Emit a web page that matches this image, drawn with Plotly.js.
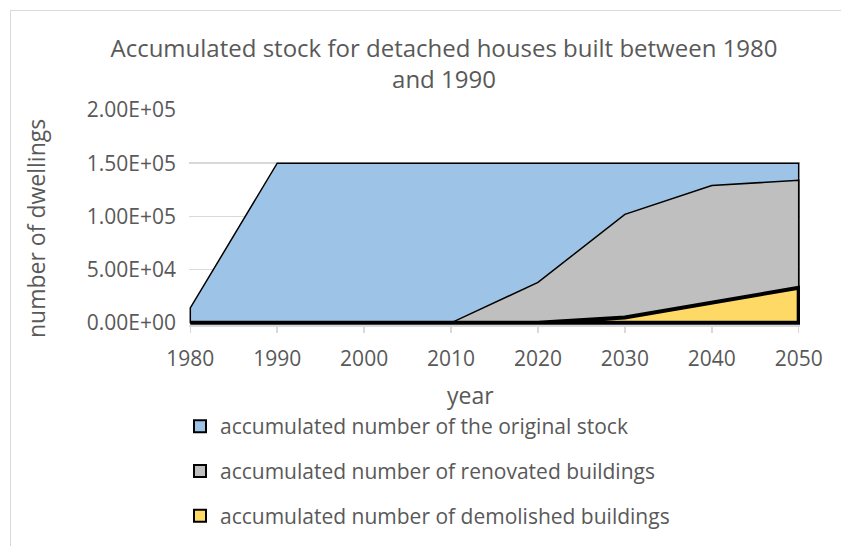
<!DOCTYPE html>
<html>
<head>
<meta charset="utf-8">
<script src="https://cdn.plot.ly/plotly-3.0.1.min.js"></script>
<style>
  html, body { margin: 0; padding: 0; background: #ffffff; }
  #frame { position: absolute; left: 10px; top: 10px; width: 900px; height: 600px; border: 1px solid #d9d9d9; box-sizing: border-box; }
  #chart { position: absolute; left: 0; top: 0; width: 841px; height: 546px; }
</style>
</head>
<body>
<div id="frame"></div>
<div id="chart"></div>
<script>
// ---- data ----
const years = [1980, 1990, 2000, 2010, 2020, 2030, 2040, 2050];
const originalStock = [14000, 150000, 150000, 150000, 150000, 150000, 150000, 150000];
const renovated = [0, 0, 0, 0, 38000, 102000, 129000, 134000];
const demolished = [0, 0, 0, 0, 0, 5000, 19000, 33000];
const seriesNames = [
  'accumulated number of the original stock',
  'accumulated number of renovated buildings',
  'accumulated number of demolished buildings'
];
const yTickValues = [0, 50000, 100000, 150000, 200000];
const yTickLabels = ['0.00E+00', '5.00E+04', '1.00E+05', '1.50E+05', '2.00E+05'];
const xTickValues = [1980, 1990, 2000, 2010, 2020, 2030, 2040, 2050];

// ---- styles ----
const fills = ['#9dc3e6', '#bfbfbf', '#ffd966'];
const lineWidths = [1.5, 1.5, 4];
const font = '"Open Sans", "Noto Sans", sans-serif';
const textColor = '#595959';

// closed polygon from a series (area down to zero)
function polygon(xs, ys) {
  const x = [xs[0]].concat(xs, [xs[xs.length - 1], xs[0]]);
  const y = [0].concat(ys, [0, 0]);
  return { x, y };
}

const allSeries = [originalStock, renovated, demolished];
const traces = [];
allSeries.forEach((s, i) => {
  const p = polygon(years, s);
  traces.push({
    type: 'scatter', mode: 'lines', x: p.x, y: p.y,
    fill: 'toself', fillcolor: fills[i],
    line: { color: '#000000', width: lineWidths[i] },
    name: seriesNames[i], showlegend: false, hoverinfo: 'skip'
  });
});
// legend entries
allSeries.forEach((s, i) => {
  traces.push({
    type: 'scatter', mode: 'markers', x: [null], y: [null],
    name: seriesNames[i], legendgroup: 'g' + i, showlegend: true,
    marker: { symbol: 'square', size: 13, color: fills[i], line: { color: '#000000', width: i === 2 ? 3 : 1.5 } }
  });
});

const layout = {
  width: 841, height: 546,
  paper_bgcolor: 'rgba(0,0,0,0)', plot_bgcolor: 'rgba(0,0,0,0)',
  margin: { l: 189, r: 41, t: 110, b: 221, autoexpand: false },
  font: { family: font, color: textColor, size: 20 },
  title: {
    text: 'Accumulated stock for detached houses built between 1980<br>and 1990',
    font: { family: font, size: 24, color: textColor },
    xref: 'container', x: 444 / 841, xanchor: 'center',
    yref: 'container', y: 1 - 57 / 546, yanchor: 'top'
  },
  xaxis: {
    range: [1979.85, 2050.15], tickvals: xTickValues, ticktext: xTickValues.map(String),
    showgrid: false, zeroline: false, showline: true, linecolor: '#d9d9d9', linewidth: 1.5,
    automargin: false,
    ticks: 'outside', ticklen: 6, tickcolor: '#d9d9d9', tickwidth: 1.5,
    ticklabelstandoff: 8,
    tickfont: { family: font, size: 21, color: textColor }
  },
  yaxis: {
    range: [-2000, 200000], tickvals: yTickValues, ticktext: yTickLabels, automargin: false,
    showgrid: true, gridcolor: '#d9d9d9', gridwidth: 1.5, zeroline: false, showline: false,
    ticks: '', ticklabelstandoff: 12,
    tickfont: { family: font, size: 21, color: textColor }
  },
  annotations: [
    {
      text: 'year', xref: 'paper', yref: 'paper',
      x: (470 - 189) / 611, y: -(395 - 325) / 215, xanchor: 'center', yanchor: 'middle',
      showarrow: false, font: { family: font, size: 23, color: textColor }
    },
    {
      text: 'number of dwellings', xref: 'paper', yref: 'paper', textangle: -90,
      x: (36 - 189) / 611, y: (325 - 229) / 215, xanchor: 'center', yanchor: 'middle',
      showarrow: false, font: { family: font, size: 23, color: textColor }
    }
  ],
  legend: {
    orientation: 'v', xref: 'container', yref: 'container',
    x: 180 / 841, xanchor: 'left', y: 1 - 406 / 546, yanchor: 'top',
    font: { family: font, size: 21, color: textColor },
    traceorder: 'grouped', tracegroupgap: 14.5, itemsizing: 'constant',
    bgcolor: 'rgba(0,0,0,0)'
  },
  showlegend: true
};

Plotly.newPlot('chart', traces, layout, { displayModeBar: false, staticPlot: true });
</script>
</body>
</html>
